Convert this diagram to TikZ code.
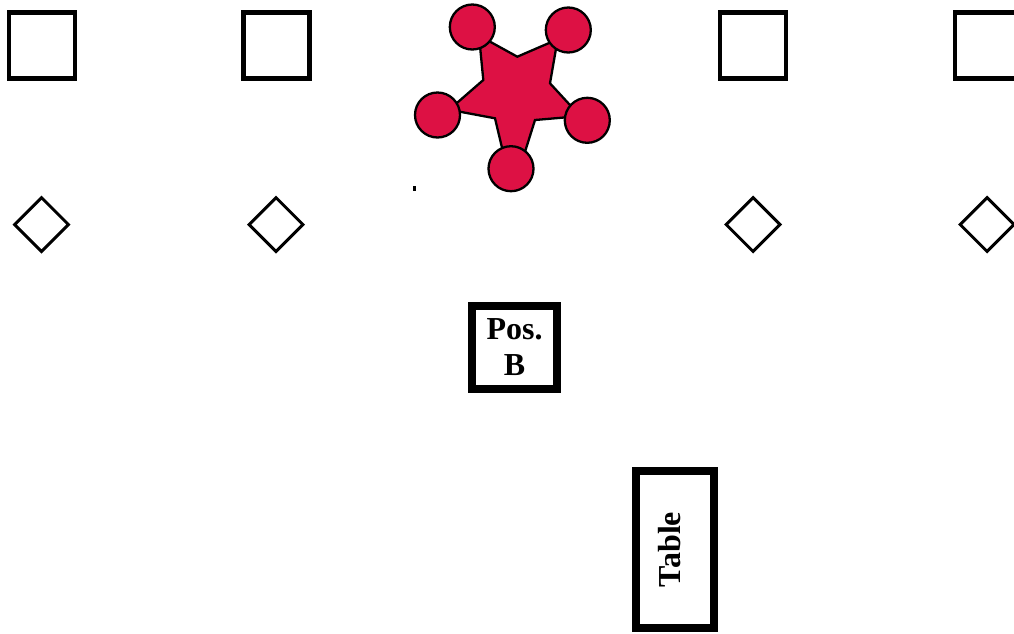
\documentclass[tikz,border=0pt]{standalone}
\usepackage{fontspec}
\setmainfont{Liberation Serif}
\usetikzlibrary{shapes.geometric}
\definecolor{starred}{RGB}{221,17,68}
\tikzset{
  sq/.style={draw, line width=4.5pt, rectangle, minimum size=66pt, inner sep=0pt},
  dia/.style={draw, line width=3pt, diamond, minimum size=55pt, inner sep=0pt, aspect=1},
  ball/.style={draw, line width=2.3pt, fill=starred, circle, minimum size=45pt, inner sep=0pt},
  starbody/.style={fill=starred, draw=black, line width=2.3pt, line join=miter},
  thickbox/.style={draw, line width=8pt, rectangle, inner sep=0pt, align=center,
    font=\bfseries\fontsize{32}{36}\selectfont},
}
\begin{document}
\begin{tikzpicture}[x=1pt,y=-1pt]
\useasboundingbox (0,0) rectangle (1014,633);
% squares
\node[sq] (s1) at (42,45.5) {};
\node[sq] (s2) at (276.5,45.5) {};
\node[sq] (s3) at (753,45.5) {};
\node[sq] (s4) at (988,45.5) {};
% diamonds
\node[dia] (d1) at (41.5,224.5) {};
\node[dia] (d2) at (276,224.5) {};
\node[dia] (d3) at (753,224.5) {};
\node[dia] (d4) at (987,224.5) {};
% star body
\coordinate (ctl) at (472.3,27);
\coordinate (ctr) at (568.3,30);
\coordinate (cr)  at (587.3,120.3);
\coordinate (cb)  at (511,168.7);
\coordinate (cl)  at (437.5,115);
\draw[starbody]
  (517.3,56.7) -- (553,41.3) -- (ctr) -- (557,43) -- (550,83.3)
  -- (573,108.3) -- (cr) -- (570,117) -- (535,120)
  -- (524,155) -- (cb) -- (503,152) -- (495,118.3)
  -- (455,110.8) -- (cl) -- (454,105.5) -- (483.3,80)
  -- (479.5,41) -- (ctl) -- (487,40) -- cycle;
\node[ball] (btl) at (ctl) {};
\node[ball] (btr) at (ctr) {};
\node[ball] (br)  at (cr) {};
\node[ball] (bb)  at (cb) {};
\node[ball] (bl)  at (cl) {};
% small mark
\fill (413,186) rectangle (415.5,191);
% Pos. B
\node[thickbox, minimum width=85pt, minimum height=83pt] (posb) at (514.5,347.5) {Pos.\\B};
% Table
\node[thickbox, rotate=90, minimum width=157pt, minimum height=78pt, text depth=11pt] (table) at (675,549.5) {Table};
\end{tikzpicture}
\end{document}
